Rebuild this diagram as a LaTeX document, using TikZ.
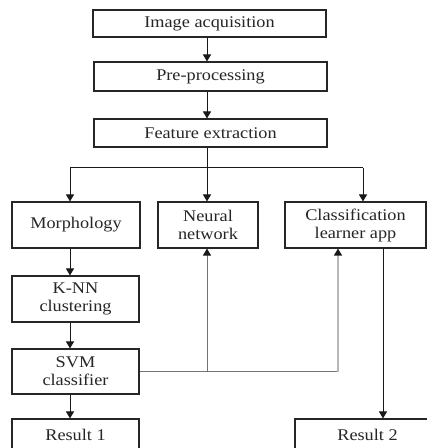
\documentclass[tikz,border=0pt]{standalone}
\usepackage{fontspec}
\setmainfont{Liberation Serif}[FakeStretch=1.12]
\usetikzlibrary{arrows.meta}
\begin{document}
\begin{tikzpicture}[x=1pt,y=1pt,
  box/.style={draw=black!85,line width=1.1pt,rectangle,inner sep=0pt,align=center,
    font=\fontsize{16.3}{18}\selectfont,text=black!85},
  arr/.style={draw=black!90,line width=1pt,-{Triangle[length=7pt,width=8pt]}},
  plainline/.style={draw=black!90,line width=1pt},
  gline/.style={draw=black!55,line width=1pt},
  garr/.style={draw=black!55,line width=1pt,-{Triangle[length=7pt,width=8pt,color=black!90]}},
  lgarr/.style={draw=black!28,line width=1.2pt,-{Triangle[length=7pt,width=8pt,color=black!90]}}]
\fill[white] (0,0) rectangle (427,448);
\useasboundingbox (0,0) rectangle (427,448);

% y values are 448 - pixel row of the reference
\node[box,minimum width=233pt,minimum height=27pt] (acq) at (209.5,424.5) {Image acquisition};
\node[box,minimum width=233pt,minimum height=29pt] (pre) at (210.5,371.5) {Pre-processing};
\node[box,minimum width=233pt,minimum height=28pt] (feat) at (210.5,315) {Feature extraction};

\node[box,minimum width=128pt,minimum height=46pt] (morph) at (76,223) {Morphology};
\node[box,minimum width=100pt,minimum height=46pt] (neural) at (208,223) {Neural\\network};
\node[box,minimum width=141pt,minimum height=46pt] (clas) at (355.5,223) {Classification\\learner app};

\node[box,minimum width=127pt,minimum height=46pt] (knn) at (75.5,149) {K-NN\\clustering};
\node[box,minimum width=127pt,minimum height=45pt] (svm) at (75.5,76.5) {SVM\\classifier};

\node[box,minimum width=127pt,minimum height=32pt] (res1) at (75.5,13) {Result 1};
\node[box,minimum width=145pt,minimum height=32pt] (res2) at (367.5,13) {Result 2};

% column positions
\coordinate (cx) at (207,0);
\coordinate (lx) at (70,0);
\coordinate (r2) at (383,0);

% main column
\draw[arr] (acq.south -| cx) -- (pre.north -| cx);
\draw[arr] (pre.south -| cx) -- (feat.north -| cx);

% branch
\coordinate (bc) at (207,280);
\coordinate (bl) at (70,280);
\coordinate (br) at (363,280);
\draw[plainline] (feat.south -| bc) -- (bc);
\draw[plainline] (bl) -- (br);
\draw[arr] (bl) -- (bl |- morph.north);
\draw[arr] (bc) -- (bc |- neural.north);
\draw[arr] (br) -- (br |- clas.north);

% left column
\draw[arr] (morph.south -| lx) -- (knn.north -| lx);
\draw[arr] (knn.south -| lx) -- (svm.north -| lx);
\draw[arr] (svm.south -| lx) -- (res1.north -| lx);

% feedback lines
\coordinate (j1) at (207,76);
\coordinate (j2) at (338,76);
\draw[gline] (svm.east |- j1) -- (j2);
\draw[garr] (j1) -- (j1 |- neural.south);
\draw[lgarr] (j2) -- (j2 |- clas.south);

% classification to result 2
\draw[arr] (clas.south -| r2) -- (res2.north -| r2);
\end{tikzpicture}
\end{document}
